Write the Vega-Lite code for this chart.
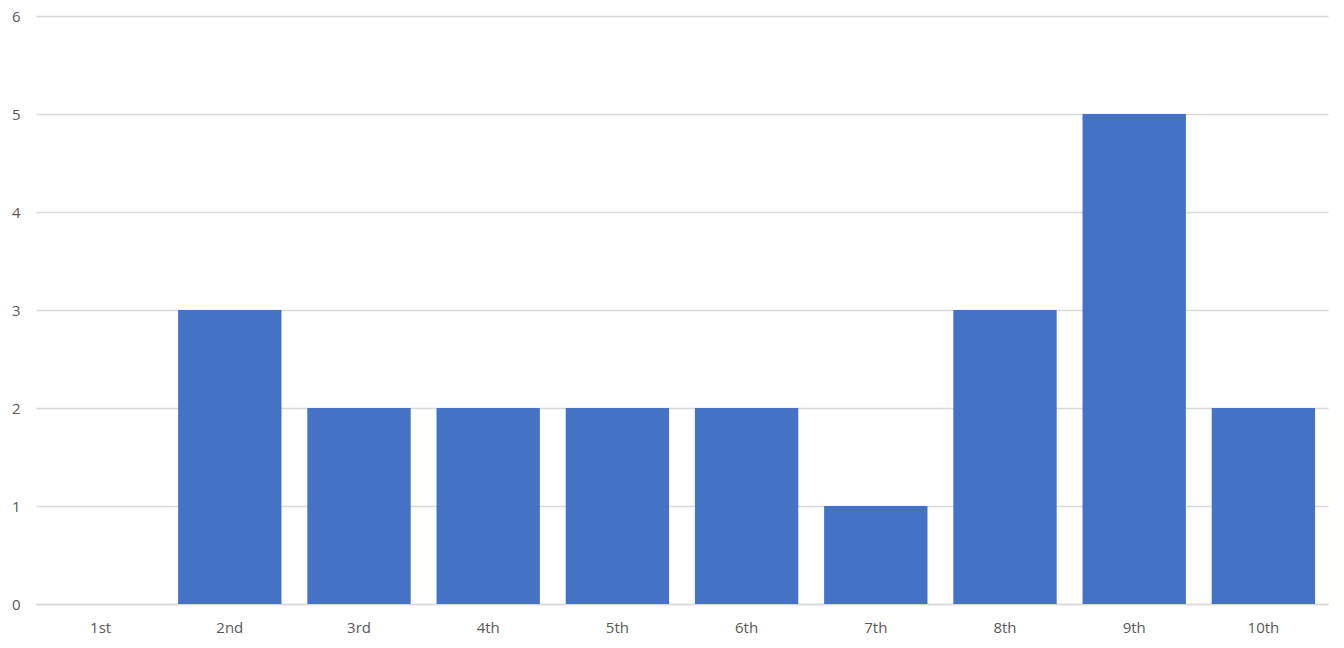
{
  "$schema": "https://vega.github.io/schema/vega-lite/v6.json",
  "width": 1292,
  "height": 588,
  "autosize": {"type": "none"},
  "padding": {"left": 36, "top": 16, "right": 16, "bottom": 44},
  "background": "white",
  "config": {"view": {"stroke": null}},
  "data": {"values": [
    {"place": "1st", "count": 0},
    {"place": "2nd", "count": 3},
    {"place": "3rd", "count": 2},
    {"place": "4th", "count": 2},
    {"place": "5th", "count": 2},
    {"place": "6th", "count": 2},
    {"place": "7th", "count": 1},
    {"place": "8th", "count": 3},
    {"place": "9th", "count": 5},
    {"place": "10th", "count": 2}
  ]},
  "mark": {"type": "bar", "color": "#4472C4"},
  "encoding": {
    "x": {
      "field": "place", "type": "nominal", "sort": null,
      "scale": {"paddingInner": 0.2, "paddingOuter": 0.1},
      "axis": {"title": null, "labelAngle": 0, "domain": true, "domainColor": "#d9d9d9", "domainWidth": 1.5, "ticks": false, "labelPadding": 16, "labelFont": "Open Sans", "labelFontSize": 15, "labelColor": "#595959", "labelOverlap": false}
    },
    "y": {
      "field": "count", "type": "quantitative",
      "scale": {"domain": [0, 6]},
      "axis": {"title": null, "values": [0,1,2,3,4,5,6], "domain": false, "ticks": false, "grid": true, "gridColor": "#d9d9d9", "gridWidth": 1.5, "labelPadding": 16, "labelFont": "Open Sans", "labelFontSize": 15, "labelColor": "#595959", "labelOverlap": false, "labelBound": false, "labelFlush": false}
    }
  }
}
